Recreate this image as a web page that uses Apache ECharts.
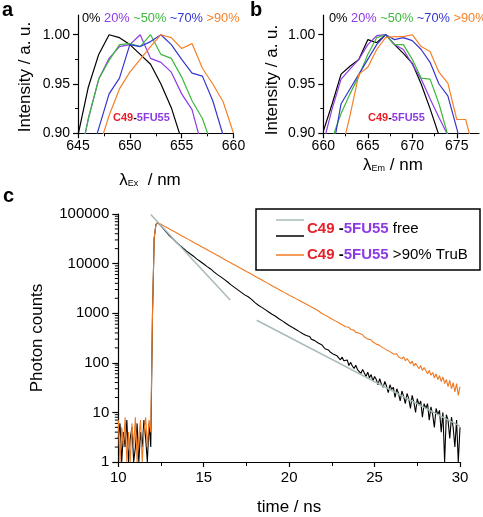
<!DOCTYPE html>
<html>
<head>
<meta charset="utf-8">
<script src="https://cdn.jsdelivr.net/npm/echarts@6/dist/echarts.min.js"></script>
<style>html,body{margin:0;padding:0;background:#fff;}#c{width:483px;height:517px;}</style>
</head>
<body>
<div id="c"></div>
<script>
// ---------- Panel a: excitation spectra ----------
const exNm = [645,646,647,648,649,650,651,652,653,654,655,656,657,658,659,660];
const ex0   = [0.898,0.947,0.980,1.000,0.997,0.990,0.980,0.970,0.950,0.926,0.893,null,null,null,null,null];
const ex20  = [0.865,0.915,0.955,0.976,0.988,0.990,1.000,0.976,0.972,0.962,0.940,0.924,0.885,null,null,null];
const ex50  = [0.865,0.915,0.955,0.974,0.990,0.991,0.988,1.000,0.980,0.976,0.957,0.933,0.915,0.885,null,null];
const ex70  = [null,0.870,0.905,0.940,0.956,0.990,0.988,0.993,1.000,0.990,0.975,0.961,0.958,0.933,0.898,null];
const ex90  = [null,null,0.885,0.918,0.945,0.962,0.975,0.988,1.000,0.997,0.986,0.991,0.966,0.950,0.932,0.900];

// ---------- Panel b: emission spectra ----------
const emNm = [660,661,662,663,664,665,666,667,668,669,670,671,672,673,674,675,676,677];
const em0   = [0.902,0.930,0.960,0.968,0.975,0.995,0.992,1.000,0.990,0.981,0.971,0.950,0.925,0.898,null,null,null,null];
const em20  = [0.890,0.925,0.955,0.965,0.975,0.990,0.999,1.000,0.990,0.985,0.970,0.955,0.935,0.916,0.898,null,null,null];
const em50  = [null,0.895,0.920,0.940,0.958,0.980,0.997,1.000,0.990,0.990,0.975,0.956,0.955,0.930,0.898,null,null,null];
const em70  = [null,0.880,0.930,0.945,0.960,0.975,0.990,1.000,0.995,0.997,0.994,0.985,0.972,0.950,0.938,0.905,0.870,null];
const em90  = [null,null,0.880,0.918,0.960,0.967,0.985,0.997,0.998,0.998,1.000,0.988,0.983,0.962,0.951,0.914,0.914,0.880];

const pctLabels = ['0%','20%','~50%','~70%','>90%'];
const xTicksA = [645,650,655,660];
const xTicksB = [660,665,670,675];
const yTicksAB = [0.90,0.95,1.00];

// ---------- Panel c: fluorescence decays ----------
const timeNs = [
10,10.1,10.2,10.3,10.4,10.5,10.6,10.7,10.8,10.9,
11,11.1,11.2,11.3,11.4,11.5,11.6,11.7,11.8,11.9,
12,12.1,12.2,12.3,12.4,12.5,12.6,12.7,12.8,12.9,
13,13.1,13.2,13.3,13.4,13.5,13.6,13.7,13.8,13.9,
14,14.1,14.2,14.3,14.4,14.5,14.6,14.7,14.8,14.9,
15,15.1,15.2,15.3,15.4,15.5,15.6,15.7,15.8,15.9,
16,16.1,16.2,16.3,16.4,16.5,16.6,16.7,16.8,16.9,
17,17.1,17.2,17.3,17.4,17.5,17.6,17.7,17.8,17.9,
18,18.1,18.2,18.3,18.4,18.5,18.6,18.7,18.8,18.9,
19,19.1,19.2,19.3,19.4,19.5,19.6,19.7,19.8,19.9,
20,20.1,20.2,20.3,20.4,20.5,20.6,20.7,20.8,20.9,
21,21.1,21.2,21.3,21.4,21.5,21.6,21.7,21.8,21.9,
22,22.1,22.2,22.3,22.4,22.5,22.6,22.7,22.8,22.9,
23,23.1,23.2,23.3,23.4,23.5,23.6,23.7,23.8,23.9,
24,24.1,24.2,24.3,24.4,24.5,24.6,24.7,24.8,24.9,
25,25.1,25.2,25.3,25.4,25.5,25.6,25.7,25.8,25.9,
26,26.1,26.2,26.3,26.4,26.5,26.6,26.7,26.8,26.9,
27,27.1,27.2,27.3,27.4,27.5,27.6,27.7,27.8,27.9,
28,28.1,28.2,28.3,28.4,28.5,28.6,28.7,28.8,28.9,
29,29.1,29.2,29.3,29.4,29.5,29.6,29.7,29.8,29.9,
30];
const countsFree = [
3,6,1,4,2,7,1,3,5,1,
2,6,1,4,2,7,3,1,6,2,
900,32000,61000,67000,62000,57500,52500,47900,43600,39800,
36300,33900,31600,29500,26900,25100,23400,21900,20400,19100,
17800,16600,15800,14800,14100,13200,12300,11700,11000,10500,
9800,9100,8700,8100,7800,7200,6800,6500,6000,5750,
5400,5000,4800,4470,4260,3980,3720,3550,3310,3160,
2950,2820,2630,2510,2340,2240,2140,2000,1900,1760,
1630,1550,1450,1400,1310,1260,1180,1140,1060,1030,
955,925,865,835,775,755,700,680,628,615,
565,560,515,505,470,465,425,430,385,390,
355,340,340,300,310,280,285,250,262,232,
225,192,204,182,165,176,148,158,138,143,
115,130,110,104,114,88,102,86,77,89,
73,80,61,73,62,53,65,50,58,43,
53,46,36,48,37,32,42,34,25,36,
29,32,20,30,24,17,27,21,15,24,
19,12,22,16,10,19,14,17,8,15,
12,15,7,13,9,5,12,9,11,4,
10,1,9,7,3,8,5,2,7,1,
5];
const countsTruB = [
7,1,5,2,8,1,4,1,6,2,
8,1,3,7,1,4,8,2,7,4,
900,33000,61000,67000,64000,61900,59300,56800,54300,52000,
49800,47600,45600,43700,41800,40000,38300,36600,35100,33600,
32100,30800,29400,28200,27000,25800,24700,23700,22600,21700,
20700,19900,19000,18200,17400,16700,16000,15300,14600,14000,
13400,12800,12300,11700,11200,10800,10300,9860,9440,9040,
8650,8280,7930,7590,7260,6950,6650,6370,6100,5830,
5600,5330,5140,4880,4710,4470,4320,4090,3960,3750,
3630,3430,3320,3140,3050,2880,2790,2630,2560,2410,
2350,2210,2140,2060,1930,1880,1780,1730,1620,1590,
1490,1460,1360,1340,1250,1230,1140,1120,1070,995,
990,915,905,835,830,765,760,700,700,640,
645,585,590,535,540,520,470,475,455,410,
420,395,360,368,330,338,300,310,292,262,
272,238,250,222,228,200,212,182,196,168,
178,150,164,152,132,144,120,132,110,122,
112,96,108,86,98,92,76,88,70,80,
74,60,70,56,64,50,60,46,55,42,
52,38,46,33,44,30,40,26,38,22,
33];
const fitEarlyT = [11.9, 16.55];
const fitEarlyY = [98000, 1850];
const fitLateT = [18.1, 30];
const fitLateY = [720, 5.3];
const logMinorTicks = [2,3,4,5,6,7,8,9,20,30,40,50,60,70,80,90,200,300,400,500,600,700,800,900,
  2000,3000,4000,5000,6000,7000,8000,9000,20000,30000,40000,50000,60000,70000,80000,90000];

// ---------- styles ----------
const FONT = "'Liberation Sans', Arial, Helvetica, sans-serif";
const colors = ['#000000','#8E3BE6','#3DB83D','#3535D0','#F5822A'];
const RED = '#E8202A', PURPLE = '#8E3BE6';

function pairs(xs, ys){
  const out = [];
  for (let i = 0; i < xs.length; i++) if (ys[i] !== null) out.push([xs[i], ys[i]]);
  return out;
}

const chart = echarts.init(document.getElementById('c'), null, {renderer:'canvas'});

function specXAxis(min, max, ticks, gridIndex){
  return {
    type:'value', gridIndex, min, max, interval:5,
    axisLine:{show:true, onZero:false, lineStyle:{color:'#000', width:1.2}},
    axisTick:{show:true, length:5, customValues:ticks, lineStyle:{color:'#000', width:1.2}},
    minorTick:{show:true, splitNumber:2, length:3, lineStyle:{color:'#000', width:1}},
    axisLabel:{customValues:ticks, color:'#000', fontSize:14, fontFamily:FONT, margin:6},
    splitLine:{show:false}, minorSplitLine:{show:false}
  };
}
function specYAxis(gridIndex){
  return {
    type:'value', gridIndex, min:0.9, max:1.02, interval:0.05,
    axisLine:{show:true, onZero:false, lineStyle:{color:'#000', width:1.2}},
    axisTick:{show:true, length:5, customValues:yTicksAB, lineStyle:{color:'#000', width:1.2}},
    minorTick:{show:true, splitNumber:2, length:3, lineStyle:{color:'#000', width:1}},
    axisLabel:{customValues:yTicksAB, color:'#000', fontSize:14, fontFamily:FONT, margin:8,
      formatter: v => v.toFixed(2)},
    splitLine:{show:false}, minorSplitLine:{show:false}
  };
}

const specSeries = [];
[ex0,ex20,ex50,ex70,ex90].forEach((ys,i)=>{
  specSeries.push({type:'line', xAxisIndex:0, yAxisIndex:0, data:pairs(exNm, ys), symbol:'none',
    lineStyle:{color:colors[i], width:1.2}, silent:true});
});
[em0,em20,em50,em70,em90].forEach((ys,i)=>{
  specSeries.push({type:'line', xAxisIndex:1, yAxisIndex:1, data:pairs(emNm, ys), symbol:'none',
    lineStyle:{color:colors[i], width:1.2}, silent:true});
});

function pctRich(){
  const rich = {};
  colors.forEach((c,i)=>{ rich['p'+i] = {fill:c, fontSize:12.8, fontFamily:FONT}; });
  return rich;
}
function pctText(){
  return pctLabels.map((t,i)=>'{p'+i+'|'+t+'}').join('{p0| }');
}
const labelRich = {
  r:{fill:RED, fontWeight:'bold', fontSize:11, fontFamily:FONT},
  k:{fill:'#000', fontWeight:'bold', fontSize:11, fontFamily:FONT},
  p:{fill:PURPLE, fontWeight:'bold', fontSize:11, fontFamily:FONT}
};
const legRich = {
  r:{fill:RED, fontWeight:'bold', fontSize:15, fontFamily:FONT},
  k:{fill:'#000', fontWeight:'bold', fontSize:15, fontFamily:FONT},
  p:{fill:PURPLE, fontWeight:'bold', fontSize:15, fontFamily:FONT},
  n:{fill:'#000', fontSize:15, fontFamily:FONT}
};
const lamRich = {
  l:{fill:'#000', fontSize:17, fontFamily:FONT},
  s:{fill:'#000', fontSize:9, fontFamily:FONT, padding:[8,0,0,0]},
  n:{fill:'#000', fontSize:17, fontFamily:FONT}
};

const option = {
  animation:false,
  backgroundColor:'#fff',
  grid:[
    {left:78, top:15, width:155.5, height:118.3},
    {left:323.3, top:15, width:155.7, height:118.3},
    {left:118.3, top:214, width:341.7, height:252.7}
  ],
  xAxis:[
    specXAxis(645, 660, xTicksA, 0),
    specXAxis(660, 677.5, xTicksB, 1),
    {
      type:'value', gridIndex:2, min:10, max:30, interval:5,
      axisLine:{show:true, onZero:false, lineStyle:{color:'#000', width:1.2}},
      axisTick:{show:true, length:5, lineStyle:{color:'#000', width:1.2}},
      minorTick:{show:true, splitNumber:2, length:4, lineStyle:{color:'#000', width:1}},
      axisLabel:{color:'#000', fontSize:15, fontFamily:FONT, margin:8},
      splitLine:{show:false}, minorSplitLine:{show:false},
      name:'time / ns', nameLocation:'middle', nameGap:37,
      nameTextStyle:{color:'#000', fontSize:17, fontFamily:FONT}
    }
  ],
  yAxis:[
    specYAxis(0),
    specYAxis(1),
    {
      type:'log', logBase:10, gridIndex:2, min:1, max:100000,
      axisLine:{show:true, onZero:false, lineStyle:{color:'#000', width:1.2}},
      axisTick:{show:true, length:6, lineStyle:{color:'#000', width:1.2}},
      axisLabel:{color:'#000', fontSize:15, fontFamily:FONT, margin:9,
        formatter: v => String(Math.round(v))},
      splitLine:{show:false}, minorSplitLine:{show:false},
      name:'Photon counts', nameLocation:'middle', nameGap:72, nameRotate:90,
      nameTextStyle:{color:'#000', fontSize:17, fontFamily:FONT}
    }
  ],
  series: specSeries.concat([
    {type:'line', xAxisIndex:2, yAxisIndex:2, data:pairs(timeNs, countsFree), symbol:'none',
      lineStyle:{color:'#000', width:1.1}, silent:true},
    {type:'line', xAxisIndex:2, yAxisIndex:2, data:pairs(timeNs, countsTruB), symbol:'none',
      lineStyle:{color:'#F07A22', width:1.1}, silent:true},
    {type:'line', xAxisIndex:2, yAxisIndex:2, data:pairs(fitEarlyT, fitEarlyY), symbol:'none',
      lineStyle:{color:'#A9BABA', width:1.5}, silent:true},
    {type:'line', xAxisIndex:2, yAxisIndex:2, data:pairs(fitLateT, fitLateY), symbol:'none',
      lineStyle:{color:'#A9BABA', width:1.5}, silent:true},
    {type:'custom', xAxisIndex:2, yAxisIndex:2, silent:true, clip:false,
      data: logMinorTicks.map(v => [10, v]),
      renderItem:(params, api) => {
        const p = api.coord([api.value(0), api.value(1)]);
        return {type:'line', shape:{x1:p[0]-3.5, y1:p[1], x2:p[0], y2:p[1]},
          style:{stroke:'#000', lineWidth:1}};
      }}
  ]),
  graphic:[
    {type:'text', left:2, top:0, style:{text:'a', fill:'#000', font:'bold 20px '+FONT}},
    {type:'text', left:250, top:0, style:{text:'b', fill:'#000', font:'bold 20px '+FONT}},
    {type:'text', left:3, top:186, style:{text:'c', fill:'#000', font:'bold 20px '+FONT}},
    {type:'text', x:82, y:18, style:{text:pctText(), rich:pctRich(), verticalAlign:'middle'}},
    {type:'text', x:329, y:18, style:{text:pctText(), rich:pctRich(), verticalAlign:'middle'}},
    {type:'text', x:113, y:118, style:{text:'{r|C49}{k|-}{p|5FU55}', rich:labelRich, verticalAlign:'middle'}},
    {type:'text', x:368, y:118, style:{text:'{r|C49}{k|-}{p|5FU55}', rich:labelRich, verticalAlign:'middle'}},
    {type:'text', x:25, y:77, rotation:Math.PI/2, style:{text:'Intensity / a. u.', fill:'#000',
      font:'17px '+FONT, align:'center', verticalAlign:'middle'}},
    {type:'text', x:272, y:80, rotation:Math.PI/2, style:{text:'Intensity / a. u.', fill:'#000',
      font:'17px '+FONT, align:'center', verticalAlign:'middle'}},
    {type:'text', x:150, y:180, style:{text:'{l|λ}{s|Ex}{n|  / nm}', rich:lamRich, align:'center', verticalAlign:'middle'}},
    {type:'text', x:393, y:165, style:{text:'{l|λ}{s|Em}{n| / nm}', rich:lamRich, align:'center', verticalAlign:'middle'}},
    {type:'rect', shape:{x:256, y:209, width:224, height:61}, style:{fill:'#fff', stroke:'#000', lineWidth:1.5}, z:10},
    {type:'line', shape:{x1:276, y1:220, x2:304, y2:220}, style:{stroke:'#A9BABA', lineWidth:1.5}, z:11},
    {type:'line', shape:{x1:276, y1:236, x2:304, y2:236}, style:{stroke:'#000', lineWidth:1.5}, z:11},
    {type:'line', shape:{x1:276, y1:255, x2:304, y2:255}, style:{stroke:'#F07A22', lineWidth:1.5}, z:11},
    {type:'text', x:307, y:229, z:11, style:{text:'{r|C49}{k| -}{p|5FU55}{n| free}', rich:legRich, verticalAlign:'middle'}},
    {type:'text', x:307, y:255, z:11, style:{text:'{r|C49}{k| -}{p|5FU55}{n| >90% TruB}', rich:legRich, verticalAlign:'middle'}}
  ]
};
chart.setOption(option);
</script>
</body>
</html>
